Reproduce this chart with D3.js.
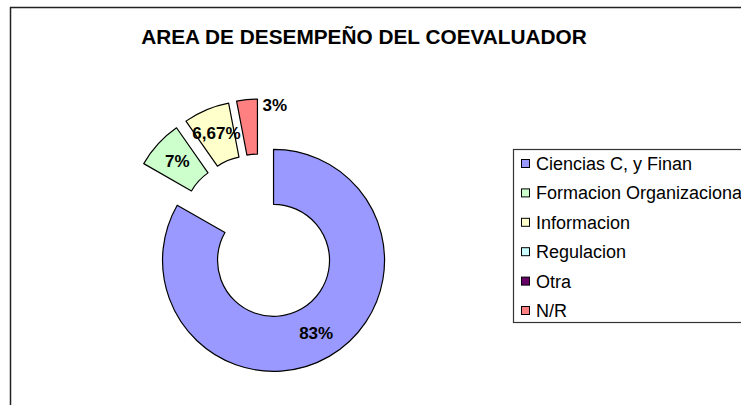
<!DOCTYPE html>
<html>
<head>
<meta charset="utf-8">
<script src="https://cdn.jsdelivr.net/npm/d3@7"></script>
<style>
  html, body { margin: 0; padding: 0; background: #fff; }
  svg { display: block; }
</style>
</head>
<body>
<svg id="chart" width="741" height="405"></svg>
<script>
// Area of performance of the co-evaluator (percent of answers)
const categories = ["Ciencias C, y Finan", "Formacion Organizacional", "Informacion", "Regulacion", "Otra", "N/R"];
const values = [83, 7, 6.67, 0, 0, 3];
const colors = ["#9999FF", "#CCFFCC", "#FFFFCC", "#CCFFFF", "#660066", "#FF8080"];
const title = "AREA DE DESEMPEÑO DEL COEVALUADOR";

const W = 741, H = 405;
const svg = d3.select("#chart");
const font = "'Liberation Sans', Arial, Helvetica, sans-serif";

// chart frame (runs past the right and bottom edges)
svg.append("rect")
  .attr("x", 10.5).attr("y", 7.5)
  .attr("width", W + 20).attr("height", H + 20)
  .attr("fill", "#fff")
  .attr("stroke", "#222").attr("stroke-width", 1.5);

svg.append("text")
  .attr("x", 364).attr("y", 44)
  .attr("text-anchor", "middle")
  .attr("font-family", font)
  .attr("font-weight", "bold")
  .attr("font-size", 20.8)
  .attr("fill", "#000")
  .text(title);

// exploded doughnut
const cx = 260, cy = 237, explode = 27;
const rOuter = 111, rInner = 56;

const pie = d3.pie().sort(null).value(d => d.value)
  .startAngle(0).endAngle(2 * Math.PI);
const arcs = pie(categories.map((c, i) => ({ name: c, value: values[i], color: colors[i] })))
  .filter(a => a.data.value > 0);

const arc = d3.arc().innerRadius(rInner).outerRadius(rOuter);
const labelArc = d3.arc().innerRadius(85).outerRadius(85);
const fmt = v => String(v).replace(".", ",") + "%";

const slices = svg.append("g").attr("transform", `translate(${cx},${cy})`);

arcs.forEach(a => {
  const mid = (a.startAngle + a.endAngle) / 2;
  const dx = explode * Math.sin(mid), dy = -explode * Math.cos(mid);
  const g = slices.append("g").attr("transform", `translate(${dx},${dy})`);
  g.append("path")
    .attr("d", arc(a))
    .attr("fill", a.data.color)
    .attr("stroke", "#000")
    .attr("stroke-width", 1.2)
    .attr("stroke-linejoin", "round");

  const share = a.endAngle - a.startAngle;
  const lbl = g.append("text")
    .attr("font-family", font)
    .attr("font-weight", "bold")
    .attr("font-size", 17)
    .attr("fill", "#000")
    .attr("dominant-baseline", "central")
    .text(fmt(a.data.value));
  if (share < 0.3) {
    // narrow slice: label sits beside its outer end
    const ex = rOuter * Math.sin(a.endAngle), ey = -rOuter * Math.cos(a.endAngle);
    lbl.attr("x", ex + 5).attr("y", ey + 6).attr("text-anchor", "start");
  } else {
    const [lx, ly] = labelArc.centroid(a);
    lbl.attr("x", lx).attr("y", ly).attr("text-anchor", "middle");
  }
});

// legend (box runs past the right edge)
const legend = svg.append("g");
legend.append("rect")
  .attr("x", 513.5).attr("y", 149.5)
  .attr("width", 260).attr("height", 173)
  .attr("fill", "#fff")
  .attr("stroke", "#333").attr("stroke-width", 1.2);

const rowY = d3.scalePoint().domain(categories).range([164, 311]);
categories.forEach((c, i) => {
  const y = rowY(c);
  legend.append("rect")
    .attr("x", 521.5).attr("y", y - 4.5)
    .attr("width", 8).attr("height", 8)
    .attr("fill", colors[i])
    .attr("stroke", "#000").attr("stroke-width", 1);
  legend.append("text")
    .attr("x", 536).attr("y", y)
    .attr("dominant-baseline", "central")
    .attr("font-family", font)
    .attr("font-size", 18)
    .attr("fill", "#000")
    .text(c);
});
</script>
</body>
</html>
